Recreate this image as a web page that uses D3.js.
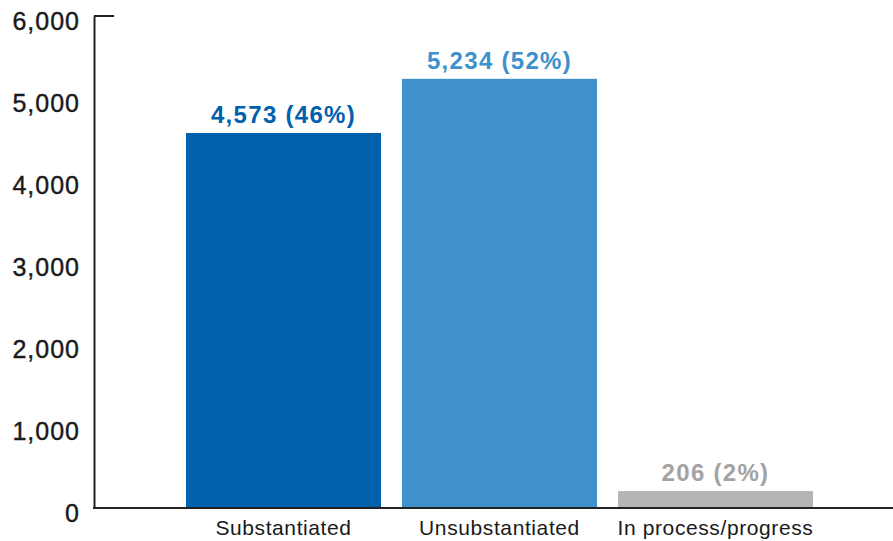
<!DOCTYPE html>
<html>
<head>
<meta charset="utf-8">
<script src="https://cdn.jsdelivr.net/npm/d3@7"></script>
<style>
  body { margin: 0; background: #fff; }
  svg text { font-family: "Liberation Sans", Arial, Helvetica, sans-serif; }
</style>
</head>
<body>
<script>
// data
const categories = ['Substantiated', 'Unsubstantiated', 'In process/progress']
const counts = [4573, 5234, 206]
const shares = ['46%', '52%', '2%']
const yTicks = [0, 1000, 2000, 3000, 4000, 5000, 6000]

const barColors = ['#0061ad', '#3e91cb', '#b5b5b5']
const labelColors = ['#0061ad', '#3e91cb', '#a3a3a3']

const width = 893, height = 541

let svg = d3.select('body').append('svg')
    .attr('width', width)
    .attr('height', height)

// scales
const x = d3.scaleBand()
    .domain(categories)
    .range([175.5, 823.5])
    .paddingInner(0.0972)
    .paddingOuter(0.0486)

const y = d3.scaleLinear()
    .domain([0, 6000])
    .range([508, 16])

// bars
svg.selectAll('rect.bar')
    .data(categories)
    .enter().append('rect')
        .attr('class', 'bar')
        .attr('x', d => x(d))
        .attr('y', (d, i) => y(counts[i]))
        .attr('width', x.bandwidth())
        .attr('height', (d, i) => y(0) - y(counts[i]))
        .attr('fill', (d, i) => barColors[i])

// value labels
svg.selectAll('text.val')
    .data(categories)
    .enter().append('text')
        .attr('class', 'val')
        .attr('x', d => x(d) + x.bandwidth() / 2)
        .attr('y', (d, i) => y(counts[i]) - 10)
        .attr('text-anchor', 'middle')
        .attr('font-size', '24px')
        .attr('font-weight', 'bold')
        .attr('letter-spacing', '1.3px')
        .attr('fill', (d, i) => labelColors[i])
        .text((d, i) => d3.format(',')(counts[i]) + ' (' + shares[i] + ')')

// y axis
const yAxis = svg.append('g')
    .attr('transform', 'translate(94,0)')
    .call(d3.axisLeft(y).tickValues(yTicks).tickSize(0).tickPadding(14).tickFormat(d3.format(',')))

yAxis.select('.domain').attr('stroke', '#222').attr('stroke-width', 2)
yAxis.selectAll('text')
    .attr('font-size', '25px')
    .attr('letter-spacing', '1px')
    .attr('fill', '#1a1a1a')
    .attr('stroke', '#1a1a1a')
    .attr('stroke-width', 0.4)
    .attr('dy', '0.55em')

// the small tick at the top
yAxis.append('line')
    .attr('x1', 0).attr('x2', 20)
    .attr('y1', y(6000)).attr('y2', y(6000))
    .attr('stroke', '#222').attr('stroke-width', 2)

// x baseline
svg.append('line')
    .attr('x1', 93).attr('x2', width)
    .attr('y1', y(0)).attr('y2', y(0))
    .attr('stroke', '#222').attr('stroke-width', 2)

// category labels
svg.selectAll('text.cat')
    .data(categories)
    .enter().append('text')
        .attr('class', 'cat')
        .attr('x', d => x(d) + x.bandwidth() / 2)
        .attr('y', 535)
        .attr('text-anchor', 'middle')
        .attr('font-size', '21px')
        .attr('letter-spacing', '0.6px')
        .attr('fill', '#1a1a1a')
        .text(d => d)
</script>
</body>
</html>
